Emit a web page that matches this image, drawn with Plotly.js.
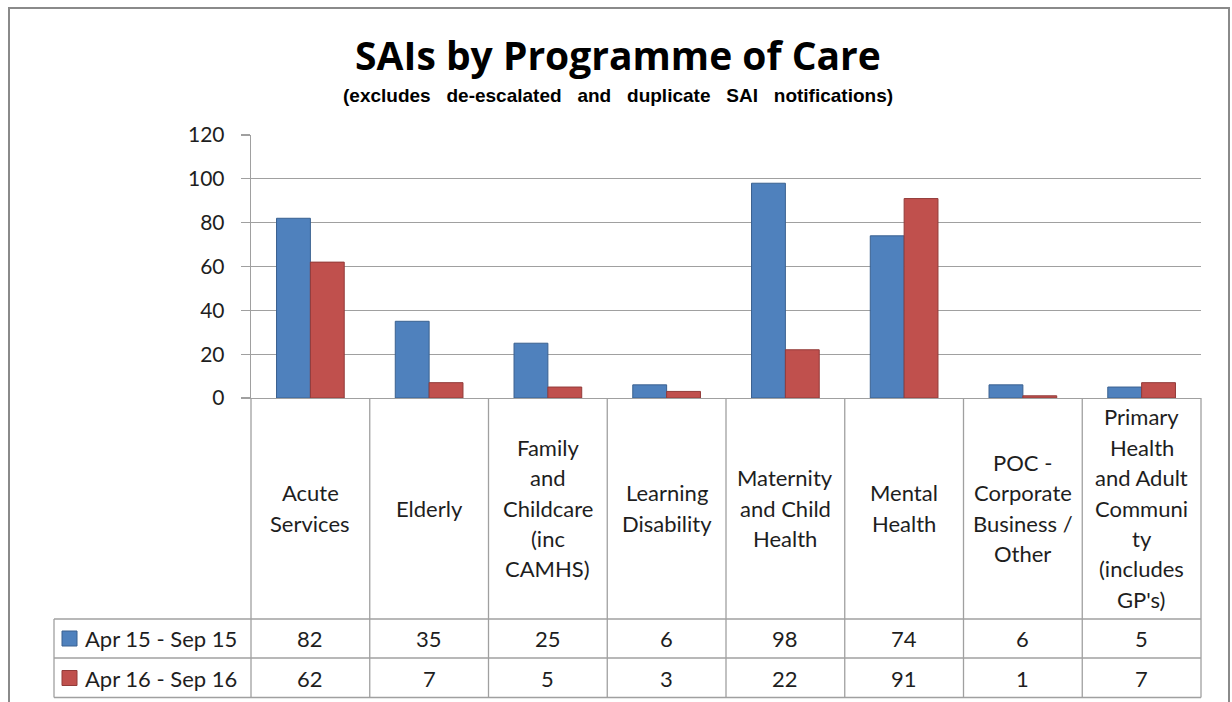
<!DOCTYPE html>
<html><head><meta charset="utf-8">
<script src="https://cdn.plot.ly/plotly-3.0.1.min.js"></script>
<style>html,body{margin:0;padding:0;background:#fff;}</style>
</head><body><div id="chart" style="width:1232px;height:702px;"></div>
<script>
const categories = ["Acute Services","Elderly","Family and Childcare (inc CAMHS)","Learning Disability","Maternity and Child Health","Mental Health","POC - Corporate Business / Other","Primary Health and Adult Community (includes GP's)"];
const categoryLines = [["Acute","Services"],["Elderly"],["Family","and","Childcare","(inc","CAMHS)"],["Learning","Disability"],["Maternity","and Child","Health"],["Mental","Health"],["POC -","Corporate","Business /","Other"],["Primary","Health","and Adult","Communi","ty","(includes","GP's)"]];
const seriesNames = ["Apr 15 - Sep 15","Apr 16 - Sep 16"];
const apr15Sep15 = [82,35,25,6,98,74,6,5];
const apr16Sep16 = [62,7,5,3,22,91,1,7];
const yTicks = [0,20,40,60,80,100,120];
const titleText = "SAIs by Programme of Care";
const subtitleText = "(excludes de-escalated and duplicate SAI notifications)";

const W = 1232, H = 702;
const M = {l:251, r:31, t:135, b:304};
const PW = W - M.l - M.r, PH = H - M.t - M.b;
const px = X => (X - M.l) / PW;
const py = Y => (H - M.b - Y) / PH;

const fontFam = "Lato, 'Open Sans', sans-serif";
const txtColor = "#1e1e1e";
const lineCol = "#a0a0a0";
const fills = ["#4F81BD", "#C0504D"];
const edges = ["#3A6190", "#923B39"];
const seriesVals = [apr15Sep15, apr16Sep16];
const tblSize = 22;

const traces = seriesVals.map((vals, s) => ({
  type: "bar",
  name: seriesNames[s],
  x: categories,
  y: vals,
  marker: {color: fills[s], line: {color: edges[s], width: 1}},
  hoverinfo: "x+y+name"
}));

const shapes = [];
const annotations = [];
const n = categories.length;

// outer chart border
shapes.push({type:"rect", xref:"paper", yref:"paper", x0:px(9), x1:px(1229), y0:py(760), y1:py(8), line:{color:"#8a8a8a", width:2}, layer:"below"});

// table vertical column lines
for (let i = 0; i <= n; i++) {
  const xp = i / n;
  shapes.push({type:"line", xref:"paper", yref:"paper", x0:xp, x1:xp, y0:py(398), y1:py(697.5), line:{color:lineCol, width:1.3}});
}
// table horizontal lines
[619, 658, 697.5].forEach(Y => {
  shapes.push({type:"line", xref:"paper", yref:"paper", x0:px(54), x1:1, y0:py(Y), y1:py(Y), line:{color:lineCol, width:1.3}});
});
shapes.push({type:"line", xref:"paper", yref:"paper", x0:px(54), x1:px(54), y0:py(619), y1:py(697.5), line:{color:lineCol, width:1.3}});

// category labels (wrapped lines)
const lineStep = 30.4, labelMid = 508;
categoryLines.forEach((lines, i) => {
  lines.forEach((ln, k) => {
    const Y = labelMid + (k - (lines.length - 1) / 2) * lineStep;
    annotations.push({xref:"x", yref:"paper", x:categories[i], y:py(Y), text:ln, showarrow:false,
      xanchor:"center", yanchor:"middle", font:{family:fontFam, size:tblSize, color:txtColor}});
  });
});

// data table rows
const rowMid = [638.5, 678];
seriesVals.forEach((vals, s) => {
  vals.forEach((v, i) => {
    annotations.push({xref:"x", yref:"paper", x:categories[i], y:py(rowMid[s]), text:String(v), showarrow:false,
      xanchor:"center", yanchor:"middle", font:{family:fontFam, size:tblSize, color:txtColor}});
  });
  // legend key
  shapes.push({type:"rect", xref:"paper", yref:"paper", x0:px(62), x1:px(77), y0:py(rowMid[s]+7.5), y1:py(rowMid[s]-7.5),
    fillcolor:fills[s], line:{color:edges[s], width:1}});
  annotations.push({xref:"paper", yref:"paper", x:px(83), y:py(rowMid[s]), text:seriesNames[s], showarrow:false,
    xanchor:"left", yanchor:"middle", font:{family:fontFam, size:tblSize, color:txtColor}});
});

// subtitle (the original has wide word spacing)
annotations.push({xref:"paper", yref:"paper", x:px(618), y:py(96), text:subtitleText.split(" ").join(" \u00A0\u00A0"), showarrow:false,
  xanchor:"center", yanchor:"middle", font:{family:"'Liberation Sans', Arial, sans-serif", size:19, weight:700, color:"#000"}});

const layout = {
  width: W, height: H,
  margin: M,
  paper_bgcolor: "#fff", plot_bgcolor: "#fff",
  showlegend: false,
  barmode: "group",
  bargap: 0.43, bargroupgap: 0,
  title: {text: titleText, xref:"container", x: 618 / W, xanchor:"center", yref:"container", y: 1 - 56 / H, yanchor:"middle",
    font: {family: "'Open Sans', Lato, sans-serif", size: 39, weight: 700, color: "#000"}},
  xaxis: {type:"category", range:[-0.5, n - 0.5], showticklabels:false, ticks:"", showgrid:false, zeroline:false,
    showline:true, linecolor:lineCol, linewidth:1.3, fixedrange:true},
  yaxis: {range:[0, 120], tickvals:yTicks, ticktext:yTicks.map(String), showgrid:true, gridcolor:lineCol, gridwidth:1.3,
    zeroline:false, showline:true, linecolor:lineCol, linewidth:1.3, ticks:"outside", ticklen:9, tickcolor:lineCol, tickwidth:1.3,
    ticklabelstandoff: 12,
    tickfont:{family:fontFam, size:21, color:txtColor}, fixedrange:true},
  shapes: shapes,
  annotations: annotations
};

Plotly.newPlot("chart", traces, layout, {displayModeBar:false, staticPlot:true});
</script>
</body></html>
